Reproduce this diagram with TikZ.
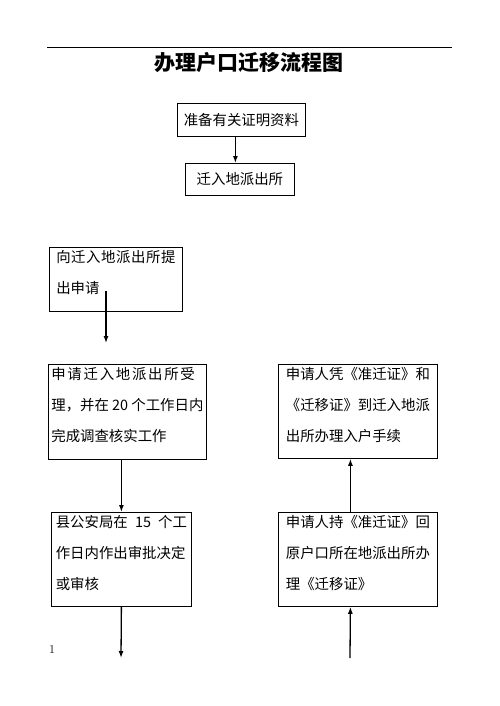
\documentclass[tikz,border=0pt]{standalone}
\usepackage{fontspec}
\newfontfamily\cjk{Noto Sans CJK SC}
\usepackage{tikz}
\usetikzlibrary{arrows.meta}

\newcommand{\spaced}[2]{{\addfontfeatures{LetterSpace=#1}#2}}

\begin{document}
\begin{tikzpicture}[x=1pt,y=-1pt,
  box/.style={draw, line width=0.8pt, anchor=north west, align=left, inner sep=0pt,
    font=\cjk\fontsize{14.4}{31}\selectfont},
  tall/.style={text depth=14pt},
  arr/.style={line width=1.3pt, -{Latex[length=7pt,width=5pt]}}]
\useasboundingbox (0,0) rectangle (500,706);
\draw[line width=0.8pt] (47,47) -- (452,47);
\node (title) at (249,63) [font=\cjk\bfseries\fontsize{21}{24}\selectfont] {办理户口迁移流程图};

\node[box, minimum width=128pt, minimum height=33pt] (docs) at (177,103) {准备有关证明资料};
\node[box, minimum width=109pt, minimum height=32pt] (station) at (185,163) {迁入地派出所};
	\node[box, tall, minimum width=133pt, minimum height=64pt] (apply) at (49,247) {\spaced{4}{向迁入地派出所提}\\出申请};
	\node[box, tall, minimum width=158pt, minimum height=95pt] (accept) at (48,364) {\spaced{12}{申请迁入地派出所受}\\理，并在 20 个工作日内\\完成调查核实工作};
	\node[box, tall, minimum width=140pt, minimum height=94pt] (county) at (51,512) {县公安局在\enspace 15\enspace 个工\\作日内作出审批决定\\或审核};
		\node[box, tall, minimum width=159pt, minimum height=94pt] (settle) at (278,364) {申请人凭《准迁证》和\\《迁移证》到迁入地派\\出所办理入户手续};
		\node[box, tall, minimum width=159pt, minimum height=94pt] (back) at (278,512) {申请人持《准迁证》回\\原户口所在地派出所办\\理《迁移证》};
\node (pagenum) at (52,650) [font=\fontsize{12}{14}\selectfont] {1};

\coordinate (applyout) at (106,291);
\coordinate (applyend) at (106,343);
\coordinate (countyend) at (121,658);
\coordinate (backstart) at (350,658);

\draw[arr] ([xshift=-4.5pt]station.north |- docs.south) -- ([xshift=-4.5pt]station.north);
\draw[arr] (applyout) -- (applyend);
\draw[arr] (county.north |- accept.south) -- (county.north);
\draw[arr] (county.south) -- (countyend);
\draw[arr] (backstart) -- ([xshift=-7.5pt]back.south);
\draw[arr] ([xshift=-7.5pt]back.north) -- ([xshift=-7.5pt]back.north |- settle.south);
\end{tikzpicture}
\end{document}
